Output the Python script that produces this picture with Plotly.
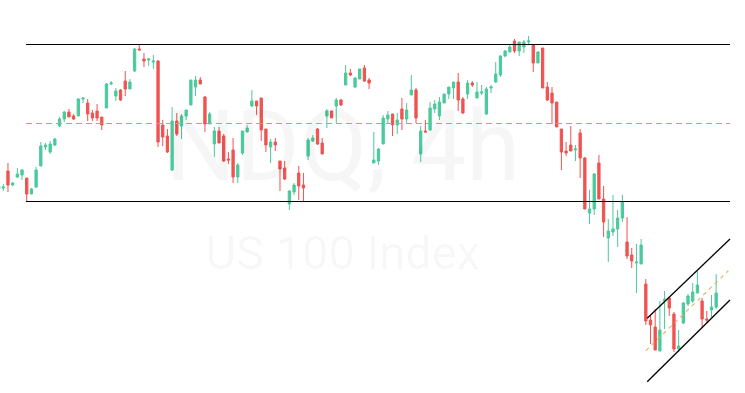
import plotly.graph_objects as go

# OHLC values (arbitrary price units)
opens = [211,212,229,215,223,225,222,206,213,234,253,248,255,274,281,288,284,284,301,297,
         287,289,283,292,316,304,310,319,311,329,351,341,340,338,339,275,264,230,279,274,
         284,295,313,320,303,276,256,269,264,241,250,223,247,268,294,299,302,271,253,258,
         239,232,196,208,227,215,244,259,271,257,284,289,294,300,315,327,313,321,332,320,
         237,239,256,281,286,275,291,281,305,310,246,269,270,291,284,297,306,312,318,301,
         306,317,302,307,286,312,318,325,344,348,359,349,353,358,355,337,352,313,307,298,
         271,249,255,250,267,242,187,191,237,201,162,168,171,182,158,145,137,136,116,80,
         73,49,99,102,86,51,77,96,99,107,99,81,90,93]
highs = [215,216,237,218,232,231,222,212,233,258,257,259,262,283,289,291,286,302,302,301,
         290,296,283,317,319,312,311,329,321,352,355,347,342,345,340,280,271,293,287,286,
         290,320,324,323,304,288,273,273,266,248,262,237,269,275,310,299,302,271,261,262,
         239,239,210,217,234,227,262,265,272,262,291,289,302,301,335,331,323,331,335,322,
         268,252,285,289,286,287,302,297,325,312,274,280,298,300,303,306,313,318,327,303,
         320,319,318,315,313,315,338,345,350,355,361,358,360,364,356,349,352,318,313,298,
         271,258,274,255,271,243,210,227,245,214,181,205,190,205,183,152,156,161,121,85,
         91,99,109,103,88,70,98,106,117,129,102,89,105,126]
lows = [210,209,208,214,222,220,198,206,212,234,250,246,254,273,278,283,280,284,297,279,
        279,279,270,292,315,299,299,304,311,328,350,333,334,331,253,254,247,229,264,261,
        280,295,304,316,268,276,243,257,238,236,217,217,245,268,293,285,259,248,237,249,
        209,220,190,205,200,199,240,258,255,246,272,282,277,294,315,324,312,321,318,311,
        237,235,256,276,264,266,270,276,305,277,238,268,269,287,280,297,301,301,289,286,
        301,313,302,305,285,307,317,323,343,348,347,344,347,355,328,337,312,299,276,273,
        230,244,249,239,222,191,176,185,201,163,138,164,153,178,141,132,107,136,75,56,
        50,49,71,84,48,48,76,94,97,107,73,77,83,91]
closes = [214,213,215,217,226,230,206,211,230,254,255,256,261,281,288,283,281,301,302,286,
          282,282,275,316,317,309,300,311,318,351,350,339,341,339,258,263,248,279,266,284,
          290,320,320,316,276,286,269,257,239,240,223,235,269,272,299,294,270,255,258,255,
          231,221,209,215,214,212,260,262,256,246,289,282,300,295,327,325,322,331,319,317,
          240,251,282,285,275,280,281,290,310,282,269,268,292,296,298,306,313,318,300,287,
          317,315,308,308,311,313,326,344,349,353,349,358,358,359,337,348,312,300,297,273,
          248,247,249,251,242,191,191,226,201,178,169,171,182,198,144,139,138,155,79,75,
          50,70,101,92,51,54,97,104,108,115,81,80,93,107]
bars = list(range(len(opens)))

# drawing levels
level_prices = [355.5, 276.5, 198.5]
level_styles = ["solid", "dash", "solid"]
level_span = [5.84, 155.95]
channel_x = [138.3, 155.95]
channel_upper = [81.7, 161.0]
channel_lower = [18.3, 100.0]
channel_mid_x = [138.0, 155.6]
channel_mid = [49.3, 129.3]

UP = "#4cc99b"
DOWN = "#ef5350"

fig = go.Figure()

# watermark (drawn first so candles are above)
fig.add_trace(go.Scatter(
    x=[73.4, 73.4], y=[245, 143], mode="text",
    text=["NDQ, 4h", "US 100 Index"],
    textfont=dict(family="Roboto", size=[98, 47], color="rgba(0,0,0,0.035)"),
    textposition="middle center", hoverinfo="skip", showlegend=False))

fig.add_trace(go.Candlestick(
    x=bars, open=opens, high=highs, low=lows, close=closes,
    increasing=dict(line=dict(color=UP, width=1), fillcolor=UP),
    decreasing=dict(line=dict(color=DOWN, width=1), fillcolor=DOWN),
    whiskerwidth=0, showlegend=False))

shapes = []
for p, st in zip(level_prices, level_styles):
    if st == "solid":
        shapes.append(dict(type="line", xref="x", yref="y", x0=level_span[0], x1=level_span[1],
                           y0=p, y1=p, line=dict(color="black", width=1)))
    else:
        shapes.append(dict(type="line", xref="x", yref="y", x0=level_span[0], x1=level_span[1],
                           y0=p, y1=p, line=dict(color="rgb(206,162,80)", width=1, dash="6px,4px")))
for ys in (channel_upper, channel_lower):
    shapes.append(dict(type="line", xref="x", yref="y", x0=channel_x[0], x1=channel_x[1],
                       y0=ys[0], y1=ys[1], line=dict(color="black", width=1.3)))
shapes.append(dict(type="line", xref="x", yref="y", x0=channel_mid_x[0], x1=channel_mid_x[1],
                   y0=channel_mid[0], y1=channel_mid[1],
                   line=dict(color="rgba(228,176,90,0.9)", width=1.2, dash="4px,4px")))

fig.update_layout(
    width=745, height=393,
    margin=dict(l=0, r=0, t=0, b=0),
    paper_bgcolor="white", plot_bgcolor="white",
    shapes=shapes,
    xaxis=dict(range=[0.3, 159.15], visible=False, showgrid=False, rangeslider=dict(visible=False)),
    yaxis=dict(range=[7, 400], visible=False, showgrid=False),
    showlegend=False,
)

fig.write_html("out.html", config={"displayModeBar": False},
               post_script="document.body.style.margin='0';")
